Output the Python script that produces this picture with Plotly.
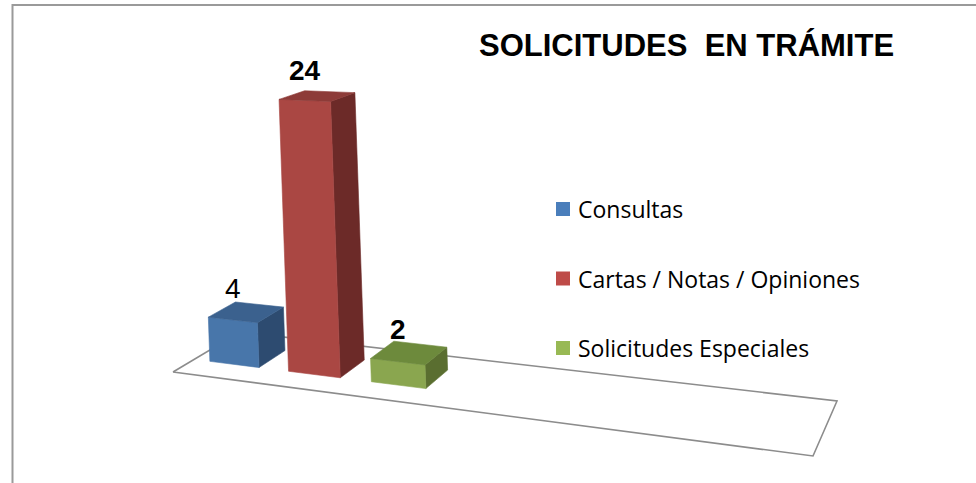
import plotly.graph_objects as go

# ---------------- data ----------------
categories = ["Consultas", "Cartas / Notas / Opiniones", "Solicitudes Especiales"]
values = [4, 24, 2]
label_bold = [False, True, True]
front_colors = ["#4876AA", "#AA4743", "#8AA64F"]
top_colors = ["#3B618E", "#8D3B38", "#6D8A3C"]
side_colors = ["#2D4B70", "#6C2A28", "#5A6E30"]
legend_colors = ["#4A7EBB", "#BE4B48", "#98B954"]
title_text = "SOLICITUDES\u00a0 EN TRÁMITE"

# ---------------- 3-D look (layout constants) ----------------
W, H = 976, 483
FL, FR, BR, BL = (173, 372), (813, 456), (837, 401), (240, 332)   # floor corners
SLOT0, SLOT, BAR_W = 0.03, 0.146, 0.092                            # along categories
V0, V1 = 0.30, 0.71                                                 # depth span of bars
K = 11.25                                                           # px per unit at w=1
LEAN = -0.035


def make_homography():
    x0, y0 = FL
    x1, y1 = FR
    x2, y2 = BR
    x3, y3 = BL
    dx1, dx2, dx3 = x1 - x2, x3 - x2, x0 - x1 + x2 - x3
    dy1, dy2, dy3 = y1 - y2, y3 - y2, y0 - y1 + y2 - y3
    den = dx1 * dy2 - dy1 * dx2
    g = (dx3 * dy2 - dy3 * dx2) / den
    h = (dx1 * dy3 - dy1 * dx3) / den
    a = x1 - x0 + g * x1
    b = x3 - x0 + h * x3
    d = y1 - y0 + g * y1
    e = y3 - y0 + h * y3
    return a, b, x0, d, e, y0, g, h


A, B, C, D, E, F, G, Hh = make_homography()


def proj(u, v, val=0.0):
    w = G * u + Hh * v + 1
    x = (A * u + B * v + C) / w
    y = (D * u + E * v + F) / w
    hp = val * K / w
    return x + LEAN * hp, y - hp


fig = go.Figure()

# floor outline
fx = [FL[0], FR[0], BR[0], BL[0], FL[0]]
fy = [FL[1], FR[1], BR[1], BL[1], FL[1]]
fig.add_trace(go.Scatter(x=fx, y=fy, mode="lines", line=dict(color="#8C8C8C", width=1.6),
                         hoverinfo="skip", showlegend=False))


def face(pts, color):
    xs = [p[0] for p in pts] + [pts[0][0]]
    ys = [p[1] for p in pts] + [pts[0][1]]
    fig.add_trace(go.Scatter(x=xs, y=ys, mode="lines", fill="toself", fillcolor=color,
                             line=dict(color=color, width=0.6), hoverinfo="skip",
                             showlegend=False))


annotations = []
for i, (cat, val) in enumerate(zip(categories, values)):
    u0 = SLOT0 + i * SLOT
    u1 = u0 + BAR_W
    b_fl, b_fr, b_br, b_bl = proj(u0, V0), proj(u1, V0), proj(u1, V1), proj(u0, V1)
    t_fl, t_fr, t_br, t_bl = proj(u0, V0, val), proj(u1, V0, val), proj(u1, V1, val), proj(u0, V1, val)
    face([b_fr, b_br, t_br, t_fr], side_colors[i])
    face([b_fl, b_fr, t_fr, t_fl], front_colors[i])
    face([t_fl, t_fr, t_br, t_bl], top_colors[i])
    lx = (t_fl[0] + t_fr[0]) / 2
    ly = min(t_fl[1], t_fr[1])
    txt = f"<b>{val}</b>" if label_bold[i] else str(val)
    annotations.append(dict(x=lx, y=ly - 29, xref="x", yref="y", text=txt, showarrow=False,
                            xanchor="center", yanchor="middle",
                            font=dict(family="Liberation Sans Narrow, Arial Narrow, Liberation Sans, sans-serif",
                                      size=28, color="#000000")))

# title
annotations.append(dict(x=686, y=45, xref="x", yref="y", text=f"<b>{title_text}</b>",
                        showarrow=False, xanchor="center", yanchor="middle",
                        font=dict(family="Liberation Sans, Arial, sans-serif",
                                  size=31, color="#000000")))

# legend
shapes = []
leg_y0, leg_dy = 209, 69.5
for i, cat in enumerate(categories):
    cy = leg_y0 + i * leg_dy
    shapes.append(dict(type="rect", xref="x", yref="y", x0=556, x1=570, y0=cy - 7, y1=cy + 7,
                       fillcolor=legend_colors[i], line=dict(width=0)))
    annotations.append(dict(x=576, y=cy, xref="x", yref="y", text=cat, showarrow=False,
                            xanchor="left", yanchor="middle",
                            font=dict(family="Open Sans, Lato, sans-serif", size=23,
                                      color="#000000")))

# chart border
shapes.append(dict(type="rect", xref="x", yref="y", x0=12.5, x1=1100, y0=5, y1=600,
                   line=dict(color="#9A9A9A", width=2), fillcolor="rgba(0,0,0,0)"))

fig.update_layout(
    width=W, height=H, autosize=False,
    margin=dict(l=0, r=0, t=0, b=0),
    paper_bgcolor="white", plot_bgcolor="white",
    xaxis=dict(range=[0, W], visible=False, fixedrange=True),
    yaxis=dict(range=[H, 0], visible=False, fixedrange=True),
    annotations=annotations, shapes=shapes, showlegend=False,
)

fig.write_html("out.html", config={"displayModeBar": False},
               post_script="document.body.style.margin='0px';")
